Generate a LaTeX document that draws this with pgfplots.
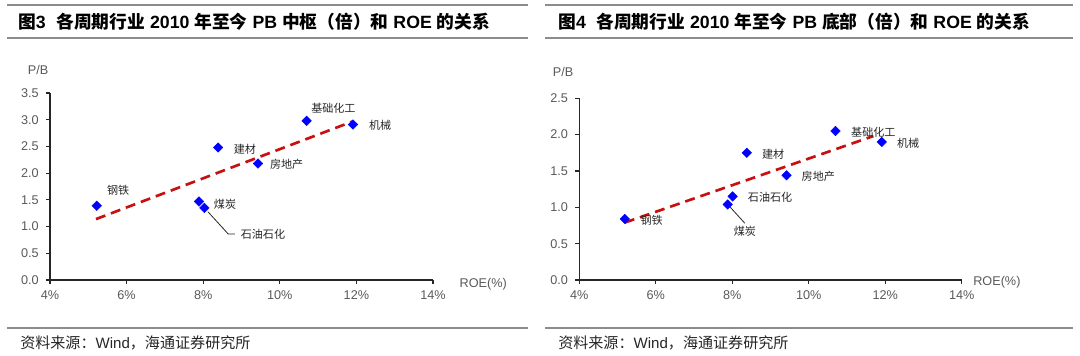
\documentclass[border=0pt]{standalone}
\usepackage{fontspec}
\setmainfont{Liberation Sans}
\newfontfamily\cjk{Noto Sans CJK SC}
\usepackage{pgfplots}
\pgfplotsset{compat=1.18}
\definecolor{tickgray}{HTML}{595959}
\definecolor{rulegray}{HTML}{8C8C8C}
\definecolor{trendred}{HTML}{C81010}
\definecolor{lbl}{HTML}{262626}
\pgfplotsset{panel/.style={
  scale only axis,
  anchor=south west,
  axis x line=bottom, axis y line=left,
  axis line style={-, black!85, line width=1pt},
  tick style={black!85, line width=0.8pt},
  tick align=outside, major tick length=3pt,
  xmin=4, xmax=14,
  xtick={4,6,8,10,12,14},
  xticklabels={4\%,6\%,8\%,10\%,12\%,14\%},
  ticklabel style={font=\fontsize{9.5}{11}\selectfont, text=tickgray},
  xticklabel style={yshift=-1.5pt},
  yticklabel style={xshift=-2pt, /pgf/number format/.cd, fixed, fixed zerofill, precision=1},
  /pgf/number format/assume math mode=true,
  clip=false,
}}
\newcommand{\lb}[1]{{\cjk\fontsize{8.3}{9.5}\selectfont\color{lbl}#1}}
\begin{document}
\begin{tikzpicture}[x=0.75pt,y=-0.75pt]
\path[use as bounding box] (0,0) rectangle (1080,355);
% rules
\draw[rulegray, line width=1.5pt] (7,4.5) -- (528,4.5);
\draw[rulegray, line width=1.5pt] (7,38) -- (528,38);
\draw[rulegray, line width=1.5pt] (545,4.5) -- (1073,4.5);
\draw[rulegray, line width=1.5pt] (545,38) -- (1073,38);
\draw[rulegray, line width=1.5pt] (7,328) -- (528,328);
\draw[rulegray, line width=1.5pt] (545,328) -- (1073,328);
% titles
\node[anchor=west, inner sep=0pt, font=\bfseries\fontsize{13.3}{15}\selectfont] at (18,22)
  {{\cjk 图}3\hspace{0.6em}{\cjk 各周期行业} 2010 {\cjk 年至今} PB {\cjk 中枢（倍）和} ROE {\cjk 的关系}};
\node[anchor=west, inner sep=0pt, font=\bfseries\fontsize{13.3}{15}\selectfont] at (558,22)
  {{\cjk 图}4\hspace{0.6em}{\cjk 各周期行业} 2010 {\cjk 年至今} PB {\cjk 底部（倍）和} ROE {\cjk 的关系}};
% sources
\node[anchor=west, inner sep=0pt, font=\fontsize{11.3}{13}\selectfont, text=lbl] at (20,343)
  {{\cjk 资料来源：}Wind{\cjk ，海通证券研究所}};
\node[anchor=west, inner sep=0pt, font=\fontsize{11.3}{13}\selectfont, text=lbl] at (558,343)
  {{\cjk 资料来源：}Wind{\cjk ，海通证券研究所}};

% left panel
\begin{axis}[panel, at={(37.5pt,-210pt)}, width=287.25pt, height=140.25pt,
  ymin=0, ymax=3.5, ytick={0,0.5,...,3.5}]
\addplot[trendred, line width=2pt, dash pattern=on 7.5pt off 4.5pt] coordinates {(5.2,1.14) (11.91,2.97)};
\addplot[only marks, mark=square*, mark size=2.5pt, mark options={rotate=45, fill=blue, draw=blue}] coordinates {
  (5.22,1.39) (7.89,1.47) (8.03,1.35) (8.39,2.48) (9.43,2.18) (10.70,2.98) (11.91,2.91)};
\draw[black!85, line width=0.6pt] (axis cs:8.12,1.28) -- (axis cs:8.655,0.86) -- (axis cs:8.83,0.86);
\node at (axis cs:5.78,1.67) {\lb{钢铁}};
\node at (axis cs:8.57,1.42) {\lb{煤炭}};
\node at (axis cs:9.56,0.86) {\lb{石油石化}};
\node at (axis cs:9.09,2.45) {\lb{建材}};
\node at (axis cs:10.18,2.17) {\lb{房地产}};
\node at (axis cs:11.40,3.21) {\lb{基础化工}};
\node at (axis cs:12.62,2.90) {\lb{机械}};
\node[font=\fontsize{9.5}{11}\selectfont, text=tickgray] at (axis cs:3.687,3.93) {P/B};
\node[font=\fontsize{9.5}{11}\selectfont, text=tickgray] at (axis cs:15.31,-0.075) {ROE(\%)};
\end{axis}

% right panel
\begin{axis}[panel, at={(434.475pt,-210pt)}, width=286.8pt, height=136.3pt,
  ymin=0, ymax=2.5, ytick={0,0.5,...,2.5}]
\addplot[trendred, line width=2pt, dash pattern=on 7.5pt off 4.5pt] coordinates {(5.19,0.79) (11.69,1.98)};
\addplot[only marks, mark=square*, mark size=2.5pt, mark options={rotate=45, fill=blue, draw=blue}] coordinates {
  (5.19,0.84) (7.88,1.04) (8.01,1.15) (8.38,1.75) (9.42,1.44) (10.70,2.05) (11.91,1.90)};
\draw[black!85, line width=0.6pt] (axis cs:7.95,1.0) -- (axis cs:8.33,0.78);
\node at (axis cs:5.89,0.816) {\lb{钢铁}};
\node at (axis cs:8.33,0.664) {\lb{煤炭}};
\node at (axis cs:8.99,1.14) {\lb{石油石化}};
\node at (axis cs:9.07,1.73) {\lb{建材}};
\node at (axis cs:10.25,1.42) {\lb{房地产}};
\node at (axis cs:11.69,2.03) {\lb{基础化工}};
\node at (axis cs:12.60,1.88) {\lb{机械}};
\node[font=\fontsize{9.5}{11}\selectfont, text=tickgray] at (axis cs:3.574,2.86) {P/B};
\node[font=\fontsize{9.5}{11}\selectfont, text=tickgray] at (axis cs:14.92,-0.0275) {ROE(\%)};
\end{axis}
\end{tikzpicture}
\end{document}
